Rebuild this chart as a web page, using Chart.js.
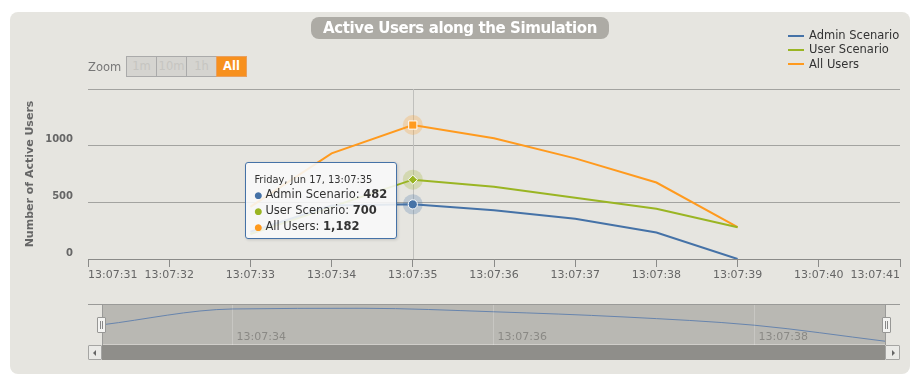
<!DOCTYPE html>
<html>
<head>
<meta charset="utf-8">
<script src="https://cdn.jsdelivr.net/npm/chart.js@4.4.1/dist/chart.umd.min.js"></script>
<style>
html,body{margin:0;padding:0;background:#fff;width:918px;height:381px;overflow:hidden;font-family:"DejaVu Sans",sans-serif;}
.abs{position:absolute;}
#panel{left:10px;top:12px;width:900px;height:361.5px;background:#e6e5e0;border-radius:8px;}
#title{left:311px;top:17px;width:298px;height:22px;line-height:22px;background:#adaba5;border-radius:8px;color:#fff;font-weight:bold;font-size:15px;letter-spacing:-0.4px;text-align:center;white-space:nowrap;}
#legend{left:788px;top:28px;font-size:11.5px;color:#333;}
#legend .item{position:relative;height:14.3px;line-height:14.3px;padding-left:21px;white-space:nowrap;}
#legend .sw{position:absolute;left:0;top:6.5px;width:16px;height:2px;}
#zoomLbl{left:88px;top:59px;font-size:11.5px;color:#777;line-height:16px;}
#zoomBtns{left:126px;top:56px;height:20px;display:flex;}
#zoomBtns div{width:29px;height:19px;line-height:19px;text-align:center;font-size:11.5px;border:1px solid #aaa;margin-left:-1px;background:#d5d4d0;color:#c6c5c1;}
#zoomBtns div:first-child{margin-left:0;}
#zoomBtns div.on{background:#f7901e;color:#fff;font-weight:bold;border-color:#e8a060;}
canvas{position:absolute;left:0;top:0;}
#tip{display:none;background:rgba(249,249,249,0.88);border:1px solid #4572A7;border-radius:3px;box-shadow:1px 1px 3px rgba(0,0,0,0.15);padding:10px 9px 4px 8px;color:#333;white-space:nowrap;}
#tip .t{font-size:9.9px;line-height:13px;height:13px;}
#tip .r{font-size:11.5px;line-height:16px;height:16px;}
#tip .b{display:inline-block;width:11px;font-size:9px;}
.navline{background:#9a9a98;}
.sbtn{background:#eaeae7;border:1px solid #a5a5a3;box-sizing:border-box;border-radius:1px;}
.handle{background:#f3f3f1;border:1px solid #979795;box-sizing:border-box;border-radius:1px;}
.handle i{position:absolute;left:2px;top:3px;width:1px;height:8px;background:#888;}
.handle i+i{left:4px;}
</style>
</head>
<body>
<div id="panel" class="abs"></div>

<!-- navigator decorations -->
<div class="abs" style="left:102px;top:345px;width:783px;height:14.5px;background:#8f8e8a;"></div>
<div class="abs sbtn" style="left:88px;top:345px;width:14px;height:14.5px;"><div class="abs" style="left:4px;top:4px;width:0;height:0;border-top:3px solid transparent;border-bottom:3px solid transparent;border-right:3px solid #666;"></div></div>
<div class="abs sbtn" style="left:885px;top:345px;width:15px;height:14.5px;"><div class="abs" style="left:6px;top:4px;width:0;height:0;border-top:3px solid transparent;border-bottom:3px solid transparent;border-left:3px solid #666;"></div></div>

<canvas id="nav" width="918" height="381"></canvas>
<div class="abs navline" style="left:88px;top:304px;width:812px;height:1px;"></div>
<div class="abs navline" style="left:101.5px;top:304px;width:1px;height:41px;"></div>
<div class="abs navline" style="left:885px;top:304px;width:1px;height:41px;"></div>
<div class="abs handle" style="left:97px;top:317px;width:9px;height:16px;"><i></i><i></i></div>
<div class="abs handle" style="left:881.5px;top:317px;width:9px;height:16px;"><i></i><i></i></div>

<canvas id="main" width="918" height="381"></canvas>

<div id="title" class="abs">Active Users along the Simulation</div>
<div id="legend" class="abs"></div>
<div id="zoomLbl" class="abs">Zoom</div>
<div id="zoomBtns" class="abs"><div>1m</div><div>10m</div><div>1h</div><div class="on">All</div></div>
<div id="tip" class="abs"></div>

<script>
// ---------------- data ----------------
const dateLabel = 'Friday, Jun 17';
const seconds = [33, 34, 35, 36, 37, 38, 39];              // 13:07:ss
const adminScenario = [240, 472, 482, 431, 355, 234, 0];
const userScenario  = [220, 460, 700, 638, 540, 443, 281];
const allUsers      = [460, 932, 1182, 1066, 888, 675, 281];
const seriesNames   = ['Admin Scenario', 'User Scenario', 'All Users'];
const seriesColors  = ['#4572A7', '#9AB523', '#FF9A1E'];
const pointShapes   = ['circle', 'rectRot', 'rect'];
const xTickSeconds  = [31, 32, 33, 34, 35, 36, 37, 38, 39, 40, 41];
const xTickLabels   = ['13:07:31','13:07:32','13:07:33','13:07:34','13:07:35','13:07:36','13:07:37','13:07:38','13:07:39','13:07:40','13:07:41'];
const yTicks        = [0, 500, 1000, 1500];
const yTickLabels   = ['0', '500', '1000', ''];
const navTickSeconds = [34, 36, 38];
const navTickLabels  = ['13:07:34', '13:07:36', '13:07:38'];
const hoverIndex = 2; // 13:07:35

Chart.defaults.font.family = '"DejaVu Sans", sans-serif';

const seriesData = [adminScenario, userScenario, allUsers];
const pts = arr => seconds.map((s, i) => ({x: s, y: arr[i]}));
const labelFor = v => { const i = xTickSeconds.indexOf(v); return i >= 0 ? xTickLabels[i] : ''; };

// legend
const lg = document.getElementById('legend');
seriesNames.forEach((n, i) => {
  const d = document.createElement('div'); d.className = 'item';
  d.innerHTML = '<span class="sw" style="background:' + seriesColors[i] + '"></span>' + n;
  lg.appendChild(d);
});

// plugins
const hoverDecor = {
  id: 'hoverDecor',
  beforeDatasetsDraw(chart) {
    const act = chart.getActiveElements();
    if (!act.length) return;
    const ctx = chart.ctx, a = chart.chartArea;
    const x = Math.round(act[0].element.x) + 0.5;
    ctx.save();
    ctx.strokeStyle = '#c0c0bd'; ctx.lineWidth = 1;
    ctx.beginPath(); ctx.moveTo(x, a.top); ctx.lineTo(x, a.bottom); ctx.stroke();
    act.forEach(e => {
      ctx.fillStyle = seriesColors[e.datasetIndex];
      ctx.globalAlpha = 0.25;
      ctx.beginPath(); ctx.arc(e.element.x, e.element.y, 10, 0, Math.PI * 2); ctx.fill();
    });
    ctx.restore();
  }
};

function externalTip(context) {
  const {chart, tooltip} = context;
  const el = document.getElementById('tip');
  if (tooltip.opacity === 0 || !tooltip.dataPoints || !tooltip.dataPoints.length) { el.style.display = 'none'; return; }
  const dps = tooltip.dataPoints;
  let html = '<div class="t">' + dateLabel + ', ' + labelFor(dps[0].parsed.x) + '</div>';
  dps.forEach(dp => {
    html += '<div class="r"><span class="b" style="color:' + seriesColors[dp.datasetIndex] + '">●</span>' +
      dp.dataset.label + ': <b>' + dp.parsed.y.toLocaleString('en-US') + '</b></div>';
  });
  el.innerHTML = html;
  el.style.display = 'block';
  const w = el.offsetWidth, h = el.offsetHeight;
  const cx = dps[0].element.x, cy = dps[0].element.y - 3.6;
  el.style.left = (cx - 15.4 - w) + 'px';
  el.style.top = (cy - h / 2) + 'px';
}

const main = new Chart(document.getElementById('main'), {
  type: 'line',
  data: {
    datasets: seriesData.map((arr, i) => ({
      label: seriesNames[i],
      data: pts(arr),
      borderColor: seriesColors[i],
      backgroundColor: seriesColors[i],
      borderWidth: 2,
      tension: 0,
      pointRadius: 0,
      pointStyle: pointShapes[i],
      pointHoverRadius: i === 2 ? 5.8 : 4.6,
      pointHoverBorderWidth: 1,
      pointHoverBorderColor: '#ffffff',
      pointHoverBackgroundColor: seriesColors[i],
      fill: false
    }))
  },
  options: {
    responsive: false,
    animation: false,
    events: [],
    layout: {autoPadding: false, padding: {left: 10, right: 18, top: 89, bottom: 92}},
    plugins: {
      legend: {display: false},
      title: {display: false},
      tooltip: {enabled: false, mode: 'index', intersect: false, animation: false, external: externalTip}
    },
    scales: {
      x: {
        type: 'linear',
        min: xTickSeconds[0], max: xTickSeconds[xTickSeconds.length - 1],
        afterBuildTicks: s => { s.ticks = xTickSeconds.map(v => ({value: v})); },
        afterFit: s => { s.height = 30; },
        ticks: {callback: v => labelFor(v), align: 'inner', padding: 1.5, color: '#666', font: {size: 11}, maxRotation: 0, autoSkip: false},
        grid: {drawOnChartArea: false, drawTicks: true, tickLength: 8, color: '#8a8a88'},
        border: {display: true, color: '#8a8a88', width: 1}
      },
      y: {
        min: yTicks[0], max: yTicks[yTicks.length - 1],
        afterBuildTicks: s => { s.ticks = yTicks.map(v => ({value: v})); },
        afterFit: s => { s.width = 78; },
        ticks: {callback: v => yTickLabels[yTicks.indexOf(v)], padding: 15, labelOffset: -6, color: '#666', font: {size: 10, weight: 'bold'}},
        grid: {color: '#a3a3a0', drawTicks: false},
        border: {display: false},
        title: {display: true, text: 'Number of Active Users', color: '#666', font: {size: 11, weight: 'bold'}, padding: {top: 14, bottom: 0}}
      }
    }
  },
  plugins: [hoverDecor]
});

const active = seriesData.map((_, i) => ({datasetIndex: i, index: hoverIndex}));
main.setActiveElements(active);
main.tooltip.setActiveElements(active, {x: 0, y: 0});
main.update();

// navigator
const navMin = Math.min(...adminScenario), navMax = Math.max(...adminScenario);
const navPad = (navMax - navMin) * 0.1;
const maskPlugin = {
  id: 'mask',
  beforeDraw(chart) {
    const a = chart.chartArea, ctx = chart.ctx;
    ctx.save(); ctx.fillStyle = '#b9b8b3';
    ctx.fillRect(a.left, a.top, a.right - a.left, a.bottom - a.top);
    ctx.restore();
  },
  afterDraw(chart) {
    const sx = chart.scales.x, a = chart.chartArea, ctx = chart.ctx;
    ctx.save();
    ctx.fillStyle = '#8a8985';
    ctx.font = '11px "DejaVu Sans", sans-serif';
    ctx.textAlign = 'left'; ctx.textBaseline = 'middle';
    sx.ticks.forEach(t => {
      const i = navTickSeconds.indexOf(t.value);
      if (i >= 0) ctx.fillText(navTickLabels[i], sx.getPixelForValue(t.value) + 4, a.bottom - 7.8);
    });
    ctx.restore();
  }
};
new Chart(document.getElementById('nav'), {
  type: 'line',
  data: {datasets: [{data: pts(adminScenario), borderColor: '#6784ad', borderWidth: 1, pointRadius: 0, cubicInterpolationMode: 'monotone', fill: false}]},
  options: {
    responsive: false,
    animation: false,
    events: [],
    layout: {autoPadding: false, padding: {left: 102, right: 33, top: 305, bottom: 36.5}},
    plugins: {legend: {display: false}, tooltip: {enabled: false}},
    scales: {
      x: {
        type: 'linear', min: seconds[0], max: seconds[seconds.length - 1],
        afterBuildTicks: s => { s.ticks = navTickSeconds.map(v => ({value: v})); },
        afterFit: s => { s.height = 0; },
        ticks: {display: false},
        grid: {drawTicks: false, color: 'rgba(255,255,255,0.22)'},
        border: {display: false}
      },
      y: {display: false, min: navMin - navPad, max: navMax + navPad}
    }
  },
  plugins: [maskPlugin]
});
</script>
</body>
</html>
